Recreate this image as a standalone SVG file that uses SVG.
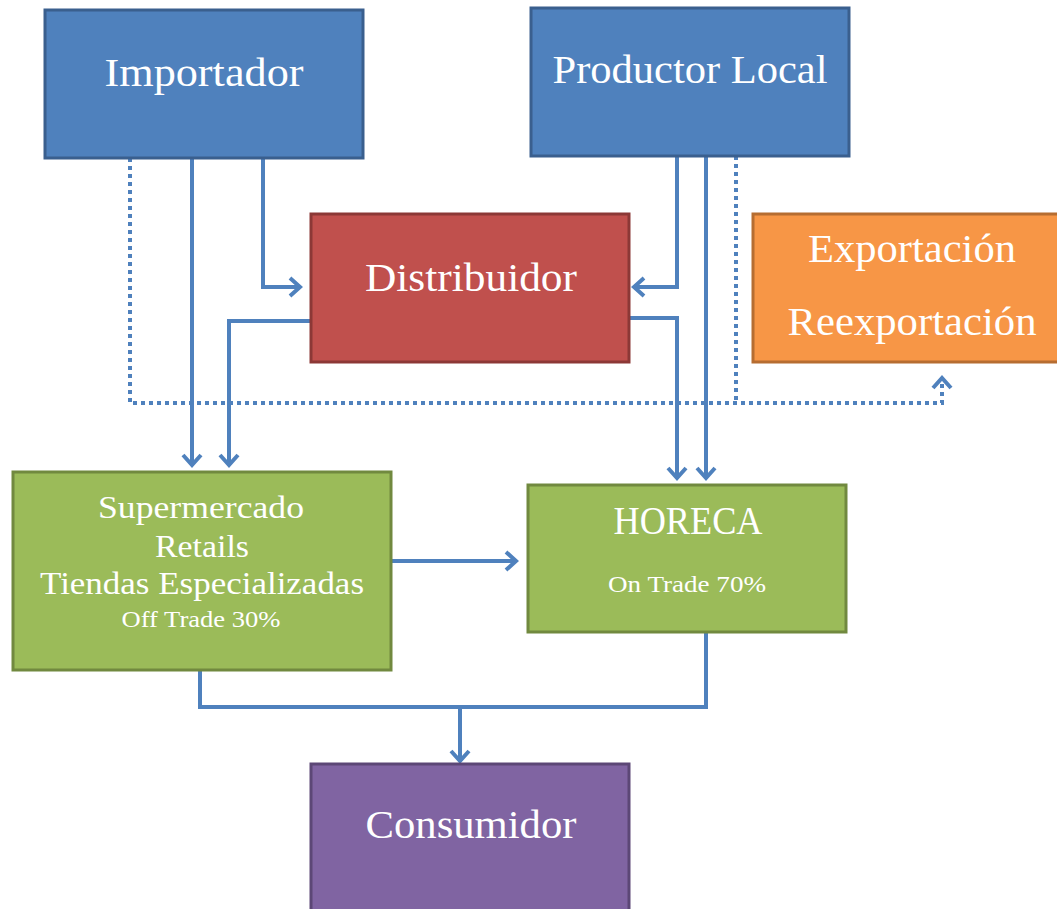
<svg xmlns="http://www.w3.org/2000/svg" width="1057" height="909" viewBox="0 0 1057 909">
<style>
.box{stroke-width:3}
.blue{fill:#4f81bd;stroke:#3a5f8e}
.red{fill:#c0504d;stroke:#8c3836}
.orange{fill:#f79646;stroke:#b66d31}
.green{fill:#9bbb59;stroke:#71893f}
.purple{fill:#8064a2;stroke:#5c4776}
text{font-family:"Liberation Serif","DejaVu Serif",serif;fill:#ffffff;text-anchor:middle}
.big{font-size:39px}
.mid{font-size:32px}
.small{font-size:24px}
.c{fill:none;stroke:#4f81bd;stroke-width:4}
.dot{stroke-dasharray:4 4}
</style>
<defs>
<marker id="arr" markerUnits="userSpaceOnUse" markerWidth="30" markerHeight="30" viewBox="-15 -15 30 30" refX="0" refY="0" orient="auto">
<path d="M-10,-9 L0,0 L-10,9" fill="none" stroke="#4f81bd" stroke-width="4"/>
</marker>
</defs>
<rect width="1057" height="909" fill="#ffffff"/>
<g id="connectors">
<path class="c dot" d="M130,158 V403 H942 V378" marker-end="url(#arr)"/>
<path class="c dot" d="M736,156 V403"/>
<path class="c" d="M192,158 V465" marker-end="url(#arr)"/>
<path class="c" d="M263,158 V287 H300" marker-end="url(#arr)"/>
<path class="c" d="M311,321 H229 V465" marker-end="url(#arr)"/>
<path class="c" d="M677,156 V287 H634" marker-end="url(#arr)"/>
<path class="c" d="M706,156 V478" marker-end="url(#arr)"/>
<path class="c" d="M629,318 H677 V478" marker-end="url(#arr)"/>
<path class="c" d="M391,561 H516" marker-end="url(#arr)"/>
<path class="c" d="M200,670 V707 H706 V632"/>
<path class="c" d="M460,707 V761" marker-end="url(#arr)"/>
</g>
<g id="importador">
<rect class="box blue" x="45" y="10" width="318" height="148"/>
<text class="big" x="204" y="86" textLength="199" lengthAdjust="spacingAndGlyphs">Importador</text>
</g>
<g id="productor">
<rect class="box blue" x="531" y="8" width="318" height="148"/>
<text class="big" x="690" y="83" textLength="275" lengthAdjust="spacingAndGlyphs">Productor Local</text>
</g>
<g id="distribuidor">
<rect class="box red" x="311" y="214" width="318" height="148"/>
<text class="big" x="471" y="291" textLength="212" lengthAdjust="spacingAndGlyphs">Distribuidor</text>
</g>
<g id="exportacion">
<rect class="box orange" x="753" y="214" width="310" height="148"/>
<text class="big" x="912" y="262" textLength="208" lengthAdjust="spacingAndGlyphs">Exportación</text>
<text class="big" x="912" y="335" textLength="249" lengthAdjust="spacingAndGlyphs">Reexportación</text>
</g>
<g id="supermercado">
<rect class="box green" x="13" y="472" width="378" height="198"/>
<text class="mid" x="201" y="518" textLength="206" lengthAdjust="spacingAndGlyphs">Supermercado</text>
<text class="mid" x="202" y="557" textLength="94" lengthAdjust="spacingAndGlyphs">Retails</text>
<text class="mid" x="202" y="594" textLength="324" lengthAdjust="spacingAndGlyphs">Tiendas Especializadas</text>
<text class="small" x="201" y="627" textLength="159" lengthAdjust="spacingAndGlyphs">Off Trade 30%</text>
</g>
<g id="horeca">
<rect class="box green" x="528" y="485" width="318" height="147"/>
<text class="big" x="688" y="534" textLength="149" lengthAdjust="spacingAndGlyphs">HORECA</text>
<text class="small" x="687" y="592" textLength="158" lengthAdjust="spacingAndGlyphs">On Trade 70%</text>
</g>
<g id="consumidor">
<rect class="box purple" x="311" y="764" width="318" height="150"/>
<text class="big" x="471" y="838" textLength="211" lengthAdjust="spacingAndGlyphs">Consumidor</text>
</g>
</svg>
